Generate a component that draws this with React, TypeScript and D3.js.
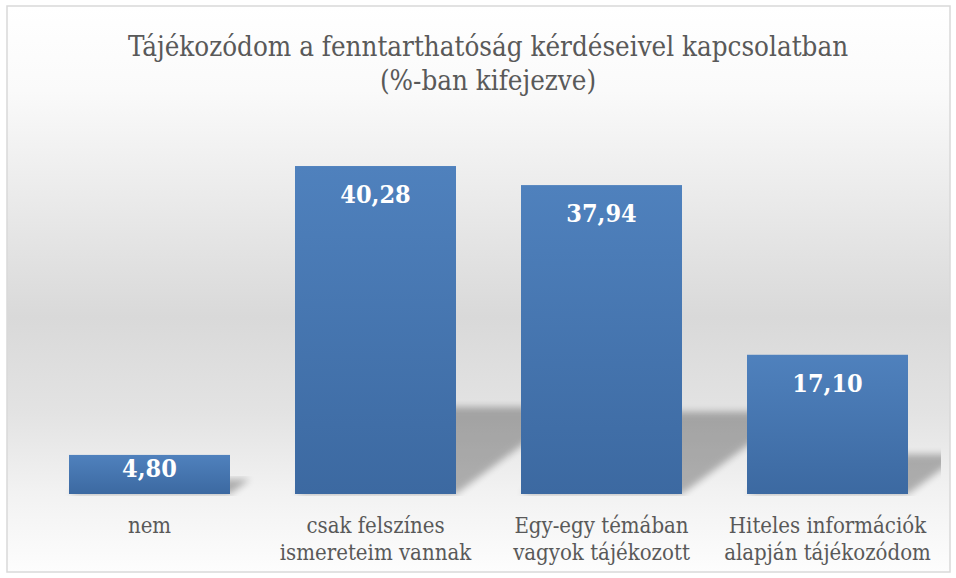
import { useEffect, useRef } from "react";
import * as d3 from "d3";

const titleLines = ["Tájékozódom a fenntarthatóság kérdéseivel kapcsolatban", "(%-ban kifejezve)"];
const categories = ["nem", "csak felszínes\nismereteim vannak", "Egy-egy témában\nvagyok tájékozott", "Hiteles információk\nalapján tájékozódom"];
const values = [4.80, 40.28, 37.94, 17.10];

const W = 956;
const H = 578;
const FONT = "'DejaVu Serif Condensed', 'DejaVu Serif', serif";

export default function App() {
    const svgRef = useRef<SVGSVGElement>(null);

    useEffect(() => {
        const svg = d3.select(svgRef.current);
        svg.selectAll("*").remove();

        const defs = svg.append("defs");
        const bg = defs.append("linearGradient").attr("id", "bg").attr("x1", 0).attr("y1", 0).attr("x2", 0).attr("y2", 1);
        [[0, "#ffffff"], [0.15, "#fafafa"], [0.55, "#d9d9d9"], [0.72, "#e3e3e3"], [0.86, "#f2f2f2"], [1, "#fdfdfd"]]
            .forEach(s => bg.append("stop").attr("offset", s[0]).attr("stop-color", s[1]));
        const bar = defs.append("linearGradient").attr("id", "bar").attr("x1", 0).attr("y1", 0).attr("x2", 0).attr("y2", 1);
        bar.append("stop").attr("offset", 0).attr("stop-color", "#4f81bd");
        bar.append("stop").attr("offset", 1).attr("stop-color", "#3c69a1");
        defs.append("filter").attr("id", "blur").attr("x", "-20%").attr("y", "-20%").attr("width", "140%").attr("height", "140%")
            .append("feGaussianBlur").attr("stdDeviation", 3.5);

        const x = d3.scaleBand<string>().domain(categories).range([36, 941]).paddingInner(0.2876).paddingOuter(0.146);
        const y = d3.scaleLinear().domain([0, 45]).range([494, 127.6]);

        defs.append("clipPath").attr("id", "plot").append("rect")
            .attr("x", 36).attr("y", 100).attr("width", 905).attr("height", 396);

        // chart area
        svg.append("rect").attr("x", 7).attr("y", 6).attr("width", 943).attr("height", 566)
            .attr("fill", "url(#bg)").attr("stroke", "#d9d9d9").attr("stroke-width", 1.5);

        // title
        svg.append("text")
            .attr("text-anchor", "middle").attr("fill", "#595959")
            .style("font-family", FONT).style("font-size", "27.5px")
            .selectAll("tspan").data(titleLines).join("tspan")
            .attr("x", 488).attr("y", (d, i) => 56 + i * 34)
            .text(d => d);

        // perspective shadows
        const base = y(0);
        svg.append("g").attr("clip-path", "url(#plot)")
            .selectAll("path").data(values).join("path")
            .attr("d", (d, i) => {
                const x0 = x(categories[i])!;
                const x1 = x0 + x.bandwidth();
                const sh = (base - y(d)) * 0.25 + 5;
                const dx = sh * 1.35;
                return `M${x0},${base}L${x1},${base}L${x1 + dx},${base - sh}L${x0 + dx},${base - sh}Z`;
            })
            .attr("fill", "#000").attr("opacity", 0.28)
            .attr("filter", "url(#blur)");

        // bars
        svg.append("g").selectAll("rect").data(values).join("rect")
            .attr("x", (d, i) => x(categories[i])!)
            .attr("y", d => y(d))
            .attr("width", x.bandwidth())
            .attr("height", d => base - y(d))
            .attr("fill", "url(#bar)");

        // value labels
        const fmt = d3.format(".2f");
        svg.append("g").selectAll("text").data(values).join("text")
            .attr("x", (d, i) => x(categories[i])! + x.bandwidth() / 2)
            .attr("y", d => y(d) + Math.min(37, base - y(d) - 17))
            .attr("text-anchor", "middle").attr("fill", "#ffffff")
            .style("font-family", FONT).style("font-size", "25px").style("font-weight", "bold")
            .text(d => fmt(d).replace(".", ","));

        // category labels
        const lab = svg.append("g").selectAll("text").data(categories).join("text")
            .attr("text-anchor", "middle").attr("fill", "#595959")
            .style("font-family", FONT).style("font-size", "22px");
        lab.selectAll("tspan").data(d => d.split("\n").map(s => ({ s, c: d }))).join("tspan")
            .attr("x", d => x(d.c)! + x.bandwidth() / 2)
            .attr("y", (d, i) => 533 + i * 27)
            .text(d => d.s);
    }, []);

    return (
        <svg ref={svgRef} width={W} height={H} style={{ position: "absolute", left: 0, top: 0 }} />
    );
}
